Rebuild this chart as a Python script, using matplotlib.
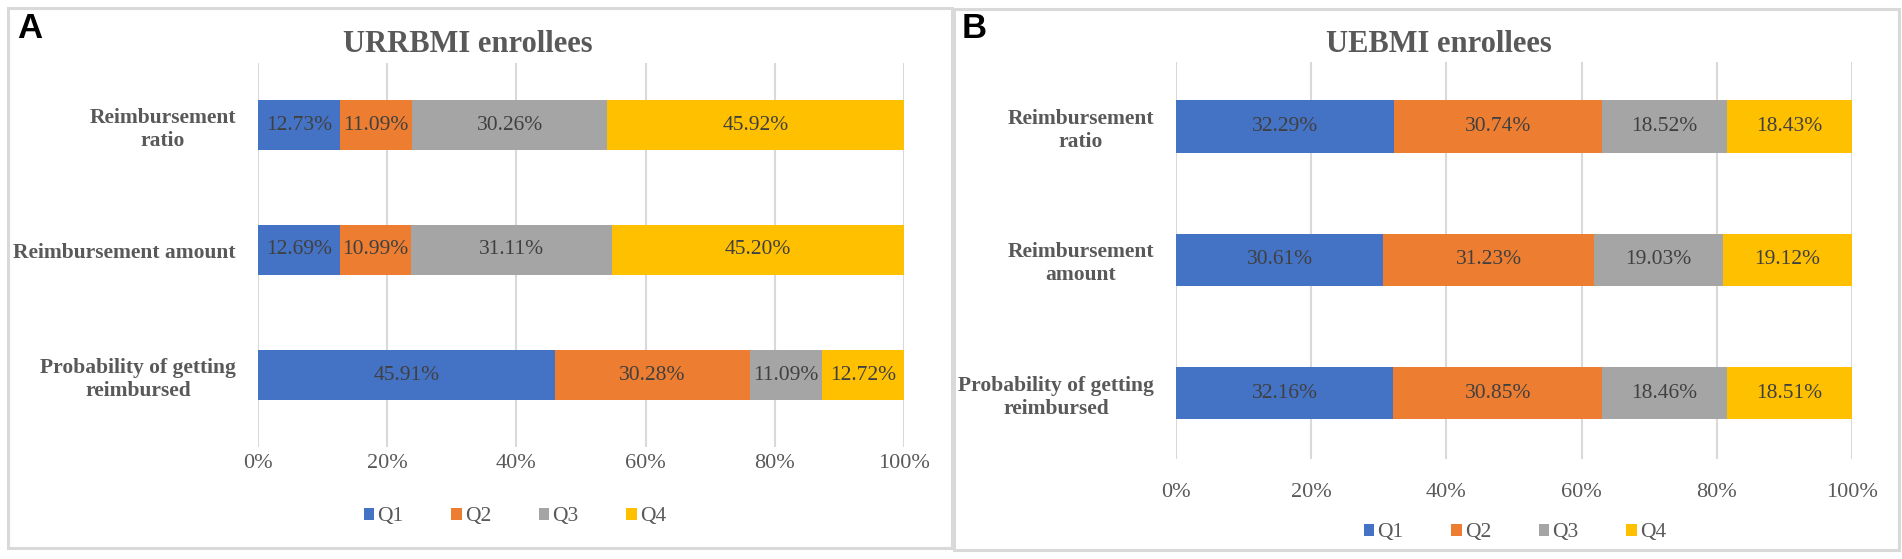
import matplotlib
matplotlib.use("Agg")
import matplotlib.pyplot as plt
from matplotlib.patches import Patch, Rectangle
import numpy as np

W, H = 1902, 559

quartiles = ["Q1", "Q2", "Q3", "Q4"]
colors = ["#4472C4", "#ED7D31", "#A5A5A5", "#FFC000"]

cats_a = ["Reimbursement\nratio", "Reimbursement amount", "Probability of getting\nreimbursed"]
cats_b = ["Reimbursement\nratio", "Reimbursement\namount", "Probability of getting\nreimbursed"]

# URRBMI enrollees (panel A): rows = categories
urrbmi_q1 = [12.73, 12.69, 45.91]
urrbmi_q2 = [11.09, 10.99, 30.28]
urrbmi_q3 = [30.26, 31.11, 11.09]
urrbmi_q4 = [45.92, 45.20, 12.72]

# UEBMI enrollees (panel B)
uebmi_q1 = [32.29, 30.61, 32.16]
uebmi_q2 = [30.74, 31.23, 30.85]
uebmi_q3 = [18.52, 19.03, 18.46]
uebmi_q4 = [18.43, 19.12, 18.51]

xticks = [0, 20, 40, 60, 80, 100]
xticklabels = ["0%", "20%", "40%", "60%", "80%", "100%"]

SERIF = "Liberation Serif"
GRAY = "#595959"
DARK = "#404040"

fig = plt.figure(figsize=(W / 100, H / 100), dpi=100)


def px_axes(l, r, t, b):
    return fig.add_axes([l / W, 1 - b / H, (r - l) / W, (b - t) / H])


def draw_panel(ax, cats, series, ylim, barh, title, title_xy, tick_pad, leg_xy):
    y = np.arange(len(cats))
    left = np.zeros(len(cats))
    for vals, col in zip(series, colors):
        vals = np.array(vals)
        ax.barh(y, vals, left=left, height=barh, color=col, zorder=3)
        for yi, (l, v) in enumerate(zip(left, vals)):
            ax.text(l + v / 2, yi, f"{v:.2f}%", ha="center", va="center",
                    family=SERIF, fontsize=15.5, color=DARK, zorder=4)
        left = left + vals
    ax.set_xlim(0, 100)
    ax.set_ylim(*ylim)
    ax.set_yticks(y)
    ax.set_yticklabels(cats, family=SERIF, fontweight="bold", fontsize=15.5,
                       color=GRAY, multialignment="center")
    ax.tick_params(axis="y", length=0, pad=16)
    ax.set_xticks(xticks)
    ax.set_xticklabels(xticklabels, family=SERIF, fontsize=16, color=GRAY)
    ax.tick_params(axis="x", length=0, pad=tick_pad)
    for s in ax.spines.values():
        s.set_visible(False)
    ax.grid(axis="x", color="#D9D9D9", linewidth=1.5, zorder=0)
    ax.set_axisbelow(True)
    fig.text(title_xy[0] / W, 1 - title_xy[1] / H, title, ha="center", va="center",
             family=SERIF, fontweight="bold", fontsize=22, color=GRAY)
    handles = [Patch(facecolor=c, edgecolor="none", label=q) for c, q in zip(colors, quartiles)]
    fig.legend(handles=handles, loc="center", ncol=4,
               bbox_to_anchor=(leg_xy[0] / W, 1 - leg_xy[1] / H),
               frameon=False, handlelength=0.5, handleheight=0.5,
               handletextpad=0.15, columnspacing=2.2,
               prop={"family": SERIF, "size": 15.5}, labelcolor=GRAY)


ax_a = px_axes(258, 904, 63, 447)
draw_panel(ax_a, cats_a, [urrbmi_q1, urrbmi_q2, urrbmi_q3, urrbmi_q4],
           (2.576, -0.496), 0.4, "URRBMI enrollees", (468, 44), 5, (515, 517))

ax_b = px_axes(1176, 1852, 62, 459)
draw_panel(ax_b, cats_b, [uebmi_q1, uebmi_q2, uebmi_q3, uebmi_q4],
           (2.491, -0.483), 0.39, "UEBMI enrollees", (1439, 45), 17, (1515, 533))

# panel letters
fig.text(17 / W, 1 - 29 / H, "A", ha="left", va="center", family="Liberation Sans",
         fontweight="bold", fontsize=25, color="black")
fig.text(962 / W, 1 - 29 / H, "B", ha="left", va="center", family="Liberation Sans",
         fontweight="bold", fontsize=25, color="black")

# panel borders
for (l, t, r, b) in [(8, 8, 952, 548), (954, 9, 1899, 550)]:
    fig.add_artist(Rectangle((l / W, 1 - b / H), (r - l) / W, (b - t) / H,
                             transform=fig.transFigure, fill=False,
                             edgecolor="#D9D9D9", linewidth=2.2))

fig.savefig("out.png", dpi=100, facecolor="white")
